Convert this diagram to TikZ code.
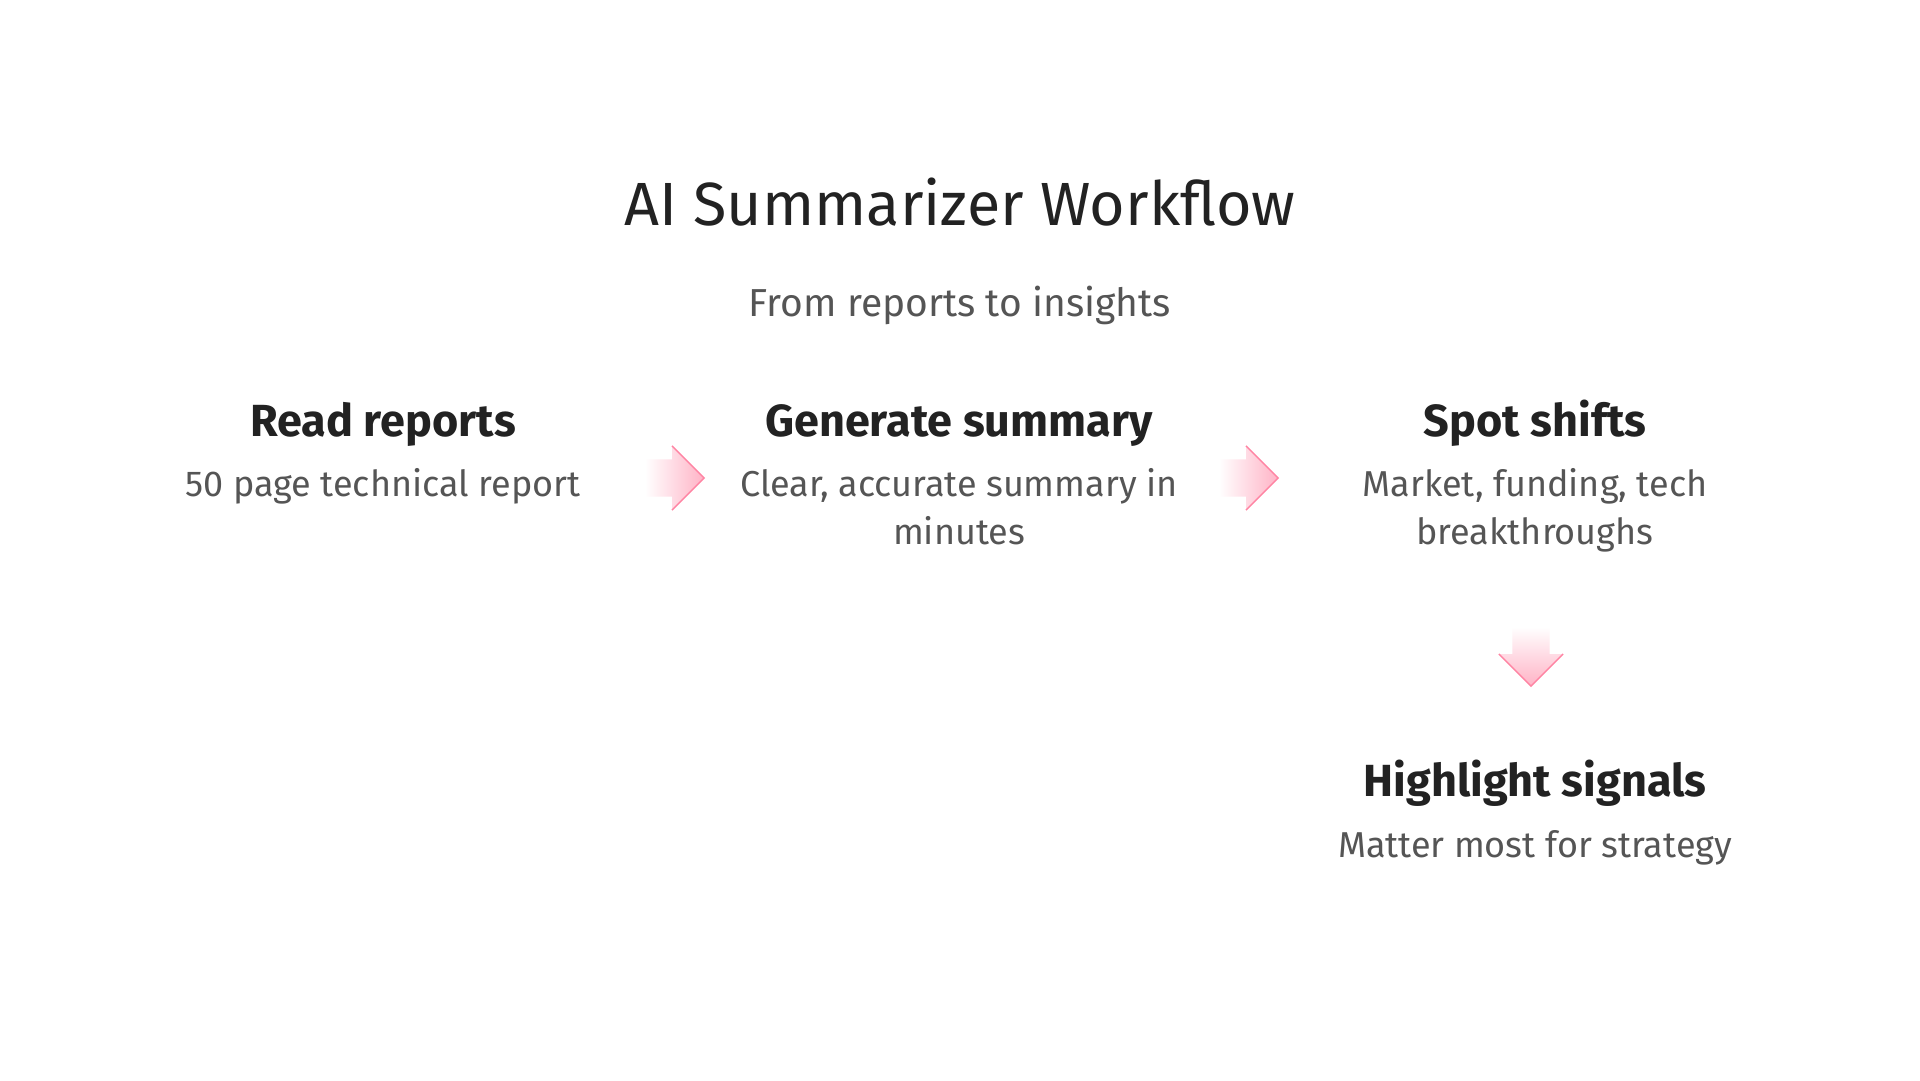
\documentclass[tikz,border=0pt]{standalone}
\usepackage{fontspec}
\setmainfont{Fira Sans}
\usetikzlibrary{shapes.arrows}

\definecolor{titlegray}{HTML}{222222}
\definecolor{textgray}{HTML}{555555}
\definecolor{arrowpink}{HTML}{FFB3C6}
\definecolor{tippink}{HTML}{FF4F7B}

\tikzset{
  stephead/.style={anchor=base, text=titlegray, font=\fontsize{45}{54}\selectfont\bfseries},
  stepdesc/.style={anchor=base, text=textgray, align=center, font=\fontsize{36}{48}\selectfont},
  flowarrow/.style={single arrow, minimum height=59pt, minimum width=63pt,
    inner xsep=0pt, inner ysep=18.5pt, single arrow head extend=13pt,
    left color=white, right color=arrowpink},
  downarrow/.style={single arrow, shape border rotate=270, minimum height=59pt, minimum width=63pt,
    inner xsep=18.5pt, inner ysep=0pt, single arrow head extend=13pt,
    top color=white, bottom color=arrowpink},
}

\begin{document}
\begin{tikzpicture}[x=1pt, y=-1pt]
    \useasboundingbox[fill=white] (0,0) rectangle (1920,1080);

    % Title
    \node[anchor=base, text=titlegray, font=\fontsize{61}{72}\selectfont] (title) at (960,225) {AI Summarizer Workflow};
    \node[anchor=base, text=textgray, font=\fontsize{39}{46}\selectfont] (subtitle) at (960,316) {From reports to insights};

    % Steps (two-line texts sit on their last baseline)
    \node[stephead] (read) at (383,436) {Read reports};
    \node[stepdesc] (readdesc) at (383,496) {50 page technical report};

    \node[stephead] (gen) at (959,436) {Generate summary};
    \node[stepdesc] (gendesc) at (959,544) {Clear, accurate summary in\\minutes};

    \node[stephead] (spot) at (1535,436) {Spot shifts};
    \node[stepdesc] (spotdesc) at (1535,544) {Market, funding, tech\\breakthroughs};

    \node[stephead] (high) at (1535,796) {Highlight signals};
    \node[stepdesc] (highdesc) at (1535,857) {Matter most for strategy};

    % Arrows
    \node[flowarrow] (a1) at (665,478) {};
    \node[flowarrow] (a2) at (1239,478) {};
    \node[downarrow] (a3) at (1531,647) {};
    \foreach \a in {a1,a2,a3}
      \draw[tippink!70, line width=1.5pt, line join=miter] (\a.before tip) -- (\a.tip) -- (\a.after tip);
\end{tikzpicture}
\end{document}
